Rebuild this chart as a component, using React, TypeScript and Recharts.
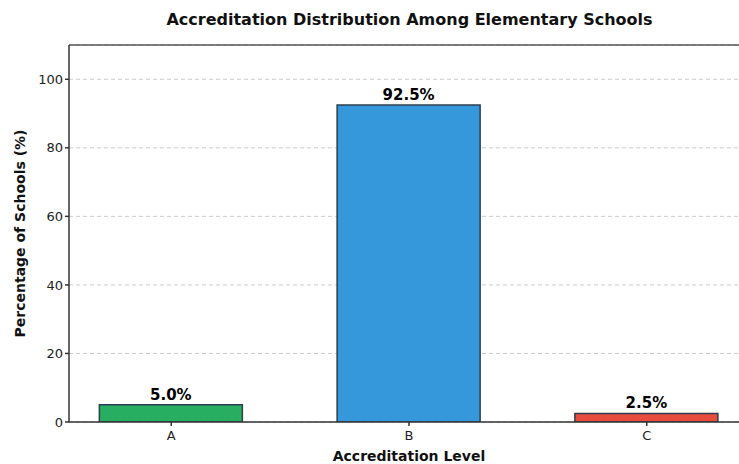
import { BarChart, Bar, XAxis, YAxis, CartesianGrid, Cell, LabelList, ReferenceLine } from 'recharts';

const levels = ['A', 'B', 'C'];
const percentages = [5.0, 92.5, 2.5];
const barColors = ['#27ae60', '#3498db', '#e74c3c'];
const yTicks = [0, 20, 40, 60, 80, 100];

const data = levels.map((level, i) => ({ pos: i, level, value: percentages[i] }));

const font = 'DejaVu Sans, sans-serif';

const App = () => {
  return (
    <div style={{ position: 'absolute', left: 0, top: 0, width: 739, height: 464, overflow: 'hidden', background: '#fff', fontFamily: font }}>
      <div style={{ position: 'absolute', left: 0, top: 10, width: 819, textAlign: 'center', fontWeight: 'bold', fontSize: 16, color: '#111' }}>
        Accreditation Distribution Among Elementary Schools
      </div>
      <BarChart width={760} height={464} data={data} margin={{ top: 45, right: 11, bottom: 0, left: 0 }}>
        <CartesianGrid vertical={false} stroke="#cccccc" strokeDasharray="4 3" />
        <ReferenceLine y={110} stroke="#555" strokeWidth={1.5} />
        <XAxis
          dataKey="pos"
          type="number"
          domain={[-0.43, 2.43]}
          ticks={[0, 1, 2]}
          tickFormatter={(v: number) => levels[v]}
          stroke="#333"
          strokeWidth={1.5}
          tickSize={4}
          tickMargin={5}
          tick={{ fill: '#222', fontSize: 13, fontFamily: font }}
          height={42}
          label={{ value: 'Accreditation Level', position: 'insideBottom', offset: 3, style: { fontWeight: 'bold', fontSize: 14, fill: '#111', fontFamily: font } }}
        />
        <YAxis
          domain={[0, 110]}
          ticks={yTicks}
          allowDataOverflow
          stroke="#333"
          strokeWidth={1.5}
          tickSize={4}
          width={69}
          tick={{ fill: '#222', fontSize: 13, fontFamily: font }}
          label={{ value: 'Percentage of Schools (%)', angle: -90, position: 'insideLeft', offset: 20, style: { textAnchor: 'middle', fontWeight: 'bold', fontSize: 14, fill: '#111', fontFamily: font } }}
        />
        <Bar dataKey="value" barSize={143} stroke="#2c3e50" strokeWidth={1.5} isAnimationActive={false}>
          {data.map((d, i) => (
            <Cell key={d.level} fill={barColors[i]} />
          ))}
          <LabelList
            dataKey="value"
            position="top"
            offset={5}
            formatter={(v: number) => `${v.toFixed(1)}%`}
            style={{ fontWeight: 'bold', fontSize: 15, fill: '#000', fontFamily: font }}
          />
        </Bar>
      </BarChart>
    </div>
  );
};

export default App;
